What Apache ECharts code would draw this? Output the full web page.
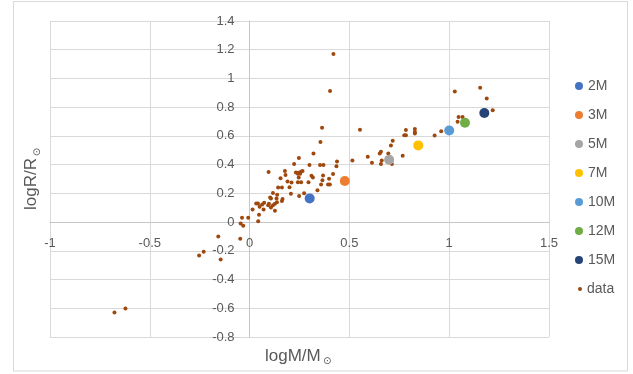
<!DOCTYPE html>
<html>
<head>
<meta charset="utf-8">
<script src="https://cdn.jsdelivr.net/npm/echarts@6/dist/echarts.min.js"></script>
<style>html,body{margin:0;padding:0;background:#fff}#c{width:633px;height:374px}</style>
</head>
<body>
<div id="c"></div>
<script>
// Named stars: log mass, log radius
var starNames = ['2M', '3M', '5M', '7M', '10M', '12M', '15M'];
var starX = [0.301, 0.477, 0.699, 0.845, 1.0, 1.079, 1.176];
var starY = [0.165, 0.286, 0.434, 0.534, 0.638, 0.692, 0.759];
var starColors = ['#4472C4', '#ED7D31', '#A5A5A5', '#FFC000', '#5B9BD5', '#70AD47', '#264478'];

// Observed data
var dataX = [0.42, 0.403, 0.363, 0.553, 0.355, 0.32, 0.247, 0.223, 0.30, 0.353, 0.37, 0.438, 0.435,
  0.095, 0.177, 0.18, 0.155, 0.232, 0.245, 0.257, 0.265, 0.253, 0.242, 0.246, 0.31, 0.317, 0.368, 0.418,
  0.19, 0.21, 0.242, 0.258, 0.295, 0.365, 0.398, 0.358, 0.393, 0.402, 0.34, 0.273, 0.248, 0.207, 0.2,
  0.162, 0.143, 0.138, 0.117, 0.103, 0.107, 0.135, 0.165, 0.162, 0.137, 0.127, 0.117, 0.107, 0.127,
  0.097, 0.073, 0.093, 0.063, 0.042, 0.033, 0.05, 0.07, 0.015, 0.047, 0.043, -0.007, -0.038, -0.045,
  -0.032, -0.157, -0.047, -0.23, -0.253, -0.145, -0.622, -0.677,
  0.592, 0.613, 0.515, 0.652, 0.658, 0.695, 0.662, 0.658, 0.713, 0.708, 0.717, 0.767, 0.775, 0.783,
  0.783, 0.828, 0.828, 0.828, 0.927, 0.96, 1.028, 1.155, 1.188, 1.218, 1.047, 1.067, 1.042];
var dataY = [1.17, 0.912, 0.657, 0.643, 0.557, 0.477, 0.447, 0.405, 0.397, 0.397, 0.397, 0.422, 0.388,
  0.348, 0.355, 0.328, 0.306, 0.345, 0.343, 0.350, 0.355, 0.336, 0.336, 0.31, 0.323, 0.311, 0.325, 0.334,
  0.283, 0.275, 0.277, 0.277, 0.278, 0.292, 0.301, 0.261, 0.262, 0.262, 0.222, 0.2, 0.181, 0.198, 0.242,
  0.241, 0.241, 0.191, 0.202, 0.172, 0.165, 0.165, 0.16, 0.146, 0.139, 0.128, 0.118, 0.102, 0.079,
  0.128, 0.135, 0.118, 0.123, 0.13, 0.13, 0.107, 0.088, 0.088, 0.051, 0.005, 0.03, 0.03, -0.009,
  -0.026, -0.1, -0.116, -0.207, -0.232, -0.26, -0.601, -0.629,
  0.455, 0.413, 0.429, 0.478, 0.49, 0.478, 0.428, 0.404, 0.405, 0.534, 0.566, 0.462, 0.605, 0.605,
  0.642, 0.648, 0.628, 0.616, 0.602, 0.632, 0.91, 0.935, 0.861, 0.778, 0.731, 0.731, 0.699];
var dataColor = '#9E480E';

var xTicks = {min: -1, max: 1.5, interval: 0.5};
var yTicks = {min: -0.8, max: 1.4, interval: 0.2};

var txt = '#595959';
var G = {left: 50, right: 84, top: 21, bottom: 37, w: 633, h: 374};
var gw = G.w - G.left - G.right, gh = G.h - G.top - G.bottom;
// place the axes (line + labels) on the zero lines
var xAxisOffset = -gh * (0 - yTicks.min) / (yTicks.max - yTicks.min);
var yAxisOffset = -gw * (0 - xTicks.min) / (xTicks.max - xTicks.min);

var series = [{
  name: 'data', type: 'scatter', symbol: 'circle', symbolSize: 4,
  itemStyle: {color: dataColor, opacity: 1},
  data: dataX.map(function (x, i) { return [x, dataY[i]]; })
}];
starNames.forEach(function (n, i) {
  series.push({
    name: n, type: 'scatter', symbol: 'circle', symbolSize: 10,
    itemStyle: {color: starColors[i], opacity: 1},
    data: [[starX[i], starY[i]]]
  });
});

var chart = echarts.init(document.getElementById('c'), null, {renderer: 'canvas'});
chart.setOption({
  animation: false,
  grid: {left: G.left, right: G.right, top: G.top, bottom: G.bottom, containLabel: false},
  xAxis: {
    type: 'value', min: xTicks.min, max: xTicks.max, interval: xTicks.interval,
    position: 'bottom', offset: xAxisOffset,
    axisLine: {show: true, onZero: false, lineStyle: {color: '#c6c6c6', width: 1}},
    axisTick: {show: false},
    axisLabel: {color: txt, fontSize: 13, fontFamily: 'Liberation Sans', margin: 15},
    splitLine: {show: true, lineStyle: {color: '#d9d9d9', width: 1}}
  },
  yAxis: {
    type: 'value', min: yTicks.min, max: yTicks.max, interval: yTicks.interval,
    position: 'left', offset: yAxisOffset,
    axisLine: {show: true, onZero: false, lineStyle: {color: '#c6c6c6', width: 1}},
    axisTick: {show: false},
    axisLabel: {color: txt, fontSize: 13, fontFamily: 'Liberation Sans', margin: 15},
    splitLine: {show: true, lineStyle: {color: '#d9d9d9', width: 1}}
  },
  legend: [{
    orient: 'vertical', left: 570, top: 74, itemWidth: 8, itemHeight: 8, itemGap: 15,
    icon: 'circle', data: starNames,
    textStyle: {color: txt, fontSize: 14, fontFamily: 'Liberation Sans', lineHeight: 14}
  }, {
    orient: 'vertical', left: 573, top: 277, itemWidth: 4, itemHeight: 4,
    icon: 'circle', data: ['data'],
    textStyle: {color: txt, fontSize: 14, fontFamily: 'Liberation Sans', lineHeight: 14}
  }],
  series: series,
  graphic: [
    {type: 'rect', silent: true, z: -10,
      shape: {x: 13.5, y: 1.5, width: 614, height: 369.5},
      style: {fill: 'none', stroke: '#d9d9d9', lineWidth: 1}},
    {type: 'text', x: 265, y: 356, silent: true,
      style: {text: 'logM/M', fill: txt, font: '17px "Liberation Sans"', textAlign: 'left', textVerticalAlign: 'middle'}},
    {type: 'text', x: 323, y: 361, silent: true,
      style: {text: '\u2299', fill: txt, font: '10px "DejaVu Sans"', textAlign: 'left', textVerticalAlign: 'middle'}},
    {type: 'text', x: 31, y: 184, rotation: Math.PI / 2, silent: true,
      style: {text: 'logR/R', fill: txt, font: '17px "Liberation Sans"', textAlign: 'center', textVerticalAlign: 'middle'}},
    {type: 'text', x: 37, y: 152, rotation: Math.PI / 2, silent: true,
      style: {text: '\u2299', fill: txt, font: '10px "DejaVu Sans"', textAlign: 'center', textVerticalAlign: 'middle'}}
  ]
});
</script>
</body>
</html>
